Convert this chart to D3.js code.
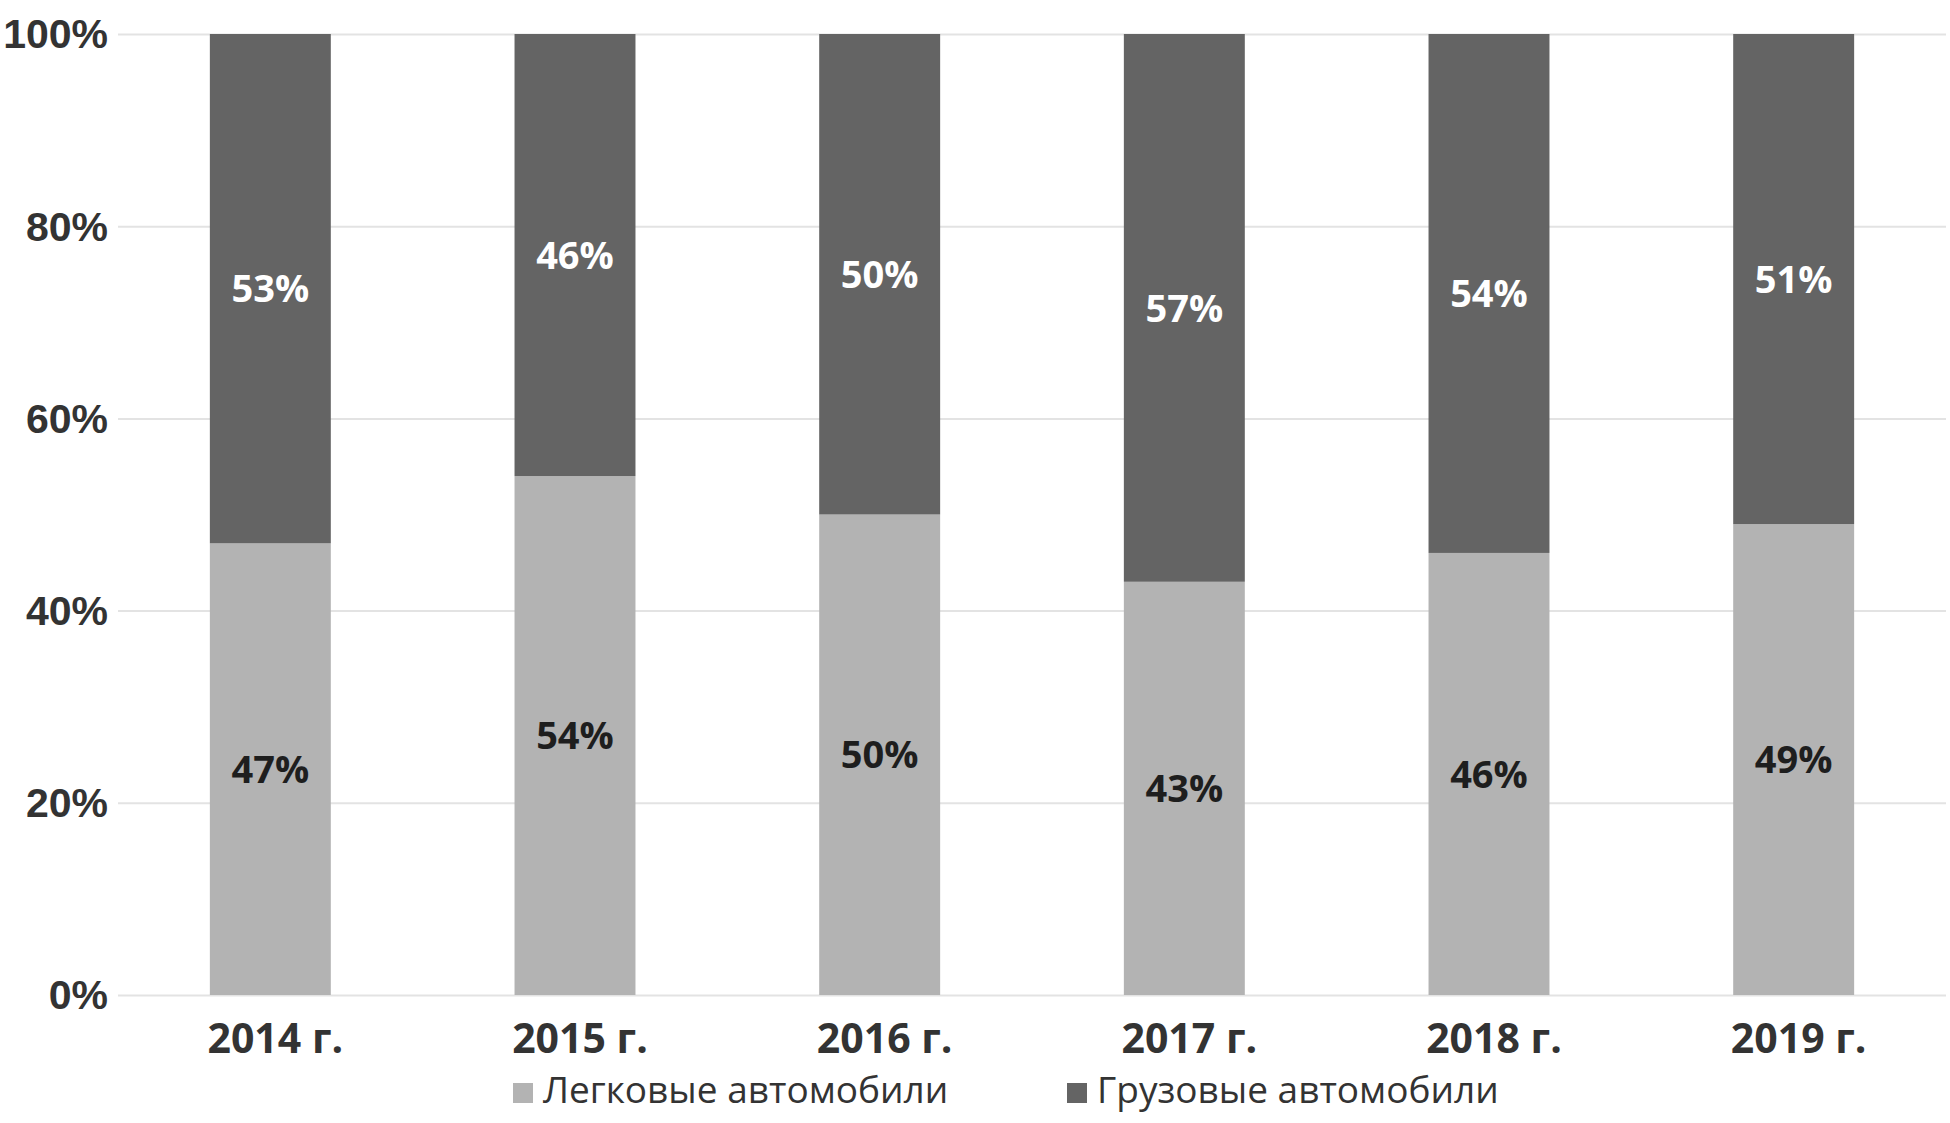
<!DOCTYPE html>
<html>
<head>
<meta charset="utf-8">
<script src="https://cdn.jsdelivr.net/npm/d3@7"></script>
<style>
  html, body { margin: 0; padding: 0; background: #fff; }
  svg { display: block; font-family: "Open Sans", sans-serif; }
</style>
</head>
<body>
<div id="chart"></div>
<script>
// Data: share of cars vs trucks, by year
const years = ['2014 г.', '2015 г.', '2016 г.', '2017 г.', '2018 г.', '2019 г.'];
const cars = [47, 54, 50, 43, 46, 49];
const trucks = [53, 46, 50, 57, 54, 51];
const seriesNames = ['Легковые автомобили', 'Грузовые автомобили'];
const yTicks = [0, 20, 40, 60, 80, 100];

const width = 1950;
const height = 1123;
const colors = ['#b3b3b3', '#646464'];
const labelColors = ['#1e1e1e', '#ffffff'];

const svg = d3.select('#chart').append('svg')
  .attr('width', width)
  .attr('height', height);

const x = d3.scaleBand()
  .domain(years)
  .range([118, 1946])
  .paddingInner(0.603)
  .paddingOuter(0.3015);

const y = d3.scaleLinear()
  .domain([0, 100])
  .range([995, 34]);

// gridlines + y labels
const yAxis = svg.append('g')
  .attr('transform', 'translate(118,0)')
  .call(d3.axisLeft(y)
    .tickValues(yTicks)
    .tickSize(-(1946 - 118))
    .tickPadding(10)
    .tickFormat(d => d + '%'));
yAxis.select('.domain').remove();
yAxis.selectAll('line').attr('stroke', '#e3e3e3').attr('stroke-width', 2);
yAxis.selectAll('text')
  .attr('fill', '#333')
  .attr('font-size', 41)
  .attr('font-weight', 700)
  .attr('dy', '0.34em');

// stacked data
const rows = years.map((yr, i) => ({ year: yr, cars: cars[i], trucks: trucks[i] }));
const stack = d3.stack().keys(['cars', 'trucks']);
const layers = stack(rows);

const layerG = svg.append('g').selectAll('g')
  .data(layers)
  .join('g')
  .attr('fill', (d, i) => colors[i]);

layerG.selectAll('rect')
  .data(d => d)
  .join('rect')
  .attr('x', d => x(d.data.year))
  .attr('width', x.bandwidth())
  .attr('y', d => y(d[1]))
  .attr('height', d => y(d[0]) - y(d[1]));

// value labels
layers.forEach((layer, i) => {
  svg.append('g').selectAll('text')
    .data(layer)
    .join('text')
    .attr('x', d => x(d.data.year) + x.bandwidth() / 2)
    .attr('y', d => y((d[0] + d[1]) / 2))
    .attr('dy', '0.36em')
    .attr('text-anchor', 'middle')
    .attr('font-size', 38)
    .attr('font-weight', 700)
    .attr('fill', labelColors[i])
    .text(d => (d[1] - d[0]) + '%');
});

// x labels
svg.append('g').selectAll('text')
  .data(years)
  .join('text')
  .attr('x', d => x(d) + x.bandwidth() / 2 + 5)
  .attr('y', 1053)
  .attr('text-anchor', 'middle')
  .attr('font-size', 41)
  .attr('font-weight', 700)
  .attr('fill', '#333')
  .text(d => d);

// legend
const legendX = [513, 1067];
const legend = svg.append('g').selectAll('g')
  .data(seriesNames)
  .join('g')
  .attr('transform', (d, i) => `translate(${legendX[i]},1083)`);

legend.append('rect')
  .attr('width', 20)
  .attr('height', 20)
  .attr('fill', (d, i) => colors[i]);

legend.append('text')
  .attr('x', 30)
  .attr('y', 20)
  .attr('font-size', 37)
  .attr('fill', '#333')
  .text(d => d);
</script>
</body>
</html>
